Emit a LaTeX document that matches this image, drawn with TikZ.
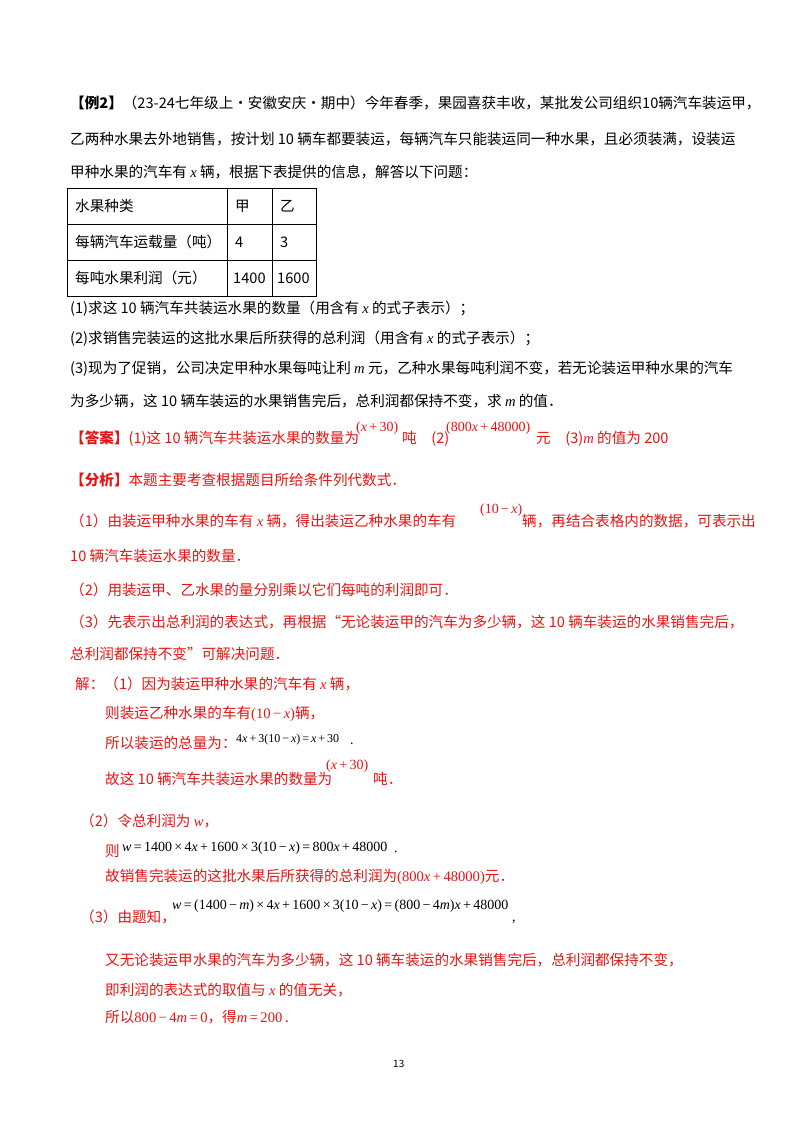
\documentclass[tikz,border=0pt]{standalone}
\usepackage{fontspec}
\setmainfont{Noto Sans CJK SC}
\newfontfamily\tms{Liberation Serif}
\newfontfamily\ssf{Liberation Sans}
\definecolor{ans}{RGB}{232,20,20}
\newcommand{\vx}{\textit{x}}
\newcommand{\mth}[1]{{\tms\fontsize{14.6}{15}\selectfont #1}}
\begin{document}
\begin{tikzpicture}[x=1pt,y=-1pt,
  t/.style={anchor=west,inner sep=0pt,font=\fontsize{14.6}{15}\selectfont},
  r/.style={t,text=ans},
  m/.style={anchor=west,inner sep=0pt,font=\tms\fontsize{14}{15}\selectfont},
  mr/.style={m,text=ans}]
\useasboundingbox (0,0) rectangle (800,1132);
\fill[white] (0,0) rectangle (800,1132);
\node[t] (l1) at (70,103) {\textbf{【例2】}（23-24七年级上·安徽安庆·期中）今年春季，果园喜获丰收，某批发公司组织10辆汽车装运甲，};
\node[t] (l2) at (70,139) {乙两种水果去外地销售，按计划 10 辆车都要装运，每辆汽车只能装运同一种水果，且必须装满，设装运};
\node[t] (l3) at (70,172) {甲种水果的汽车有 \mth{\vx} 辆，根据下表提供的信息，解答以下问题：};
% table
\draw[line width=1pt] (67,188) rectangle (316,296);
\draw[line width=1pt] (67,224) -- (316,224) (67,260) -- (316,260) (227,188) -- (227,296) (272,188) -- (272,296);
\node[t] (c11) at (75,206) {水果种类};
\node[t] (c12) at (235,206) {甲};
\node[t] (c13) at (280,206) {乙};
\node[t] (c21) at (75,242) {每辆汽车运载量（吨）};
\node[t] (c22) at (235,242) {4};
\node[t] (c23) at (280,242) {3};
\node[t] (c31) at (75,278) {每吨水果利润（元）};
\node[t] (c32) at (233,278) {1400};
\node[t] (c33) at (277,278) {1600};
\node[t] (q1) at (70,309) {(1)求这 10 辆汽车共装运水果的数量（用含有 \mth{\vx} 的式子表示）；};
\node[t] (q2) at (70,339) {(2)求销售完装运的这批水果后所获得的总利润（用含有 \mth{\vx} 的式子表示）；};
\node[t] (q3) at (70,369) {(3)现为了促销，公司决定甲种水果每吨让利 \mth{\textit{m}} 元，乙种水果每吨利润不变，若无论装运甲种水果的汽车};
\node[t] (q4) at (70,401) {为多少辆，这 10 辆车装运的水果销售完后，总利润都保持不变，求 \mth{\textit{m}} 的值．};
% answer
\node[r] (a1) at (70,439) {\textbf{【答案】}(1)这 10 辆汽车共装运水果的数量为};
\node[mr] (a2) at (356,428) {(\vx\,+\,30)};
\node[r] (a3) at (402,439) {吨\quad (2)};
\node[mr] (a4) at (446,428) {(800\vx\,+\,48000)};
\node[r] (a5) at (536,439) {元\quad (3)\mth{\textit{m}} 的值为 200};
\node[r] (f0) at (70,480) {\textbf{【分析】}本题主要考查根据题目所给条件列代数式．};
\node[r] (f1) at (70,521) {（1）由装运甲种水果的车有 \mth{\vx} 辆，得出装运乙种水果的车有};
\node[mr] (f1m) at (480,510) {(10\,−\,\vx)};
\node[r] (f1b) at (522,521) {辆，再结合表格内的数据，可表示出};
\node[r] (f2) at (70,556) {10 辆汽车装运水果的数量．};
\node[r] (f3) at (70,590) {（2）用装运甲、乙水果的量分别乘以它们每吨的利润即可．};
\node[r] (f4) at (70,622) {（3）先表示出总利润的表达式，再根据“无论装运甲的汽车为多少辆，这 10 辆车装运的水果销售完后，};
\node[r] (f5) at (70,654) {总利润都保持不变”可解决问题．};
% solution
\node[r] (s1) at (75,684) {解：（1）因为装运甲种水果的汽车有 \mth{\vx} 辆，};
\node[r] (s2) at (105,714) {则装运乙种水果的车有\mth{(10\,−\,\vx)}辆，};
\node[r] (s3) at (105,743) {所以装运的总量为：};
\node[m] (s3m) at (236,740) {\fontsize{12}{12}\selectfont 4\vx\,+\,3(10\,−\,\vx)\,=\,\vx\,+\,30};
\node[m] (s3d) at (350,744) {.};
\node[r] (s4) at (105,779) {故这 10 辆汽车共装运水果的数量为};
\node[mr] (s4m) at (326,766) {(\vx\,+\,30)};
\node[r] (s4b) at (373,779) {吨．};
\node[r] (s5) at (80,821) {（2）令总利润为 \mth{\textit{w}}，};
\node[r] (s6) at (105,851) {则};
\node[m] (s6m) at (122,848) {\textit{w}\,=\,1400\,×\,4\vx\,+\,1600\,×\,3(10\,−\,\vx)\,=\,800\vx\,+\,48000};
\node[m] (s6d) at (394,852) {.};
\node[r] (s7) at (105,877) {故销售完装运的这批水果后所获得的总利润为\mth{(800\vx\,+\,48000)}元．};
\node[m] (s8m) at (172,906) {\textit{w}\,=\,(1400\,−\,\textit{m})\,×\,4\vx\,+\,1600\,×\,3(10\,−\,\vx)\,=\,(800\,−\,4\textit{m})\vx\,+\,48000};
\node[r] (s8) at (80,917) {（3）由题知，};
\node[m] (s8c) at (512,922) {,};
\node[r] (s9) at (105,960) {又无论装运甲水果的汽车为多少辆，这 10 辆车装运的水果销售完后，总利润都保持不变，};
\node[r] (s10) at (105,990) {即利润的表达式的取值与 \mth{\vx} 的值无关，};
\node[r] (s11) at (105,1017) {所以\mth{800\,−\,4\textit{m}\,=\,0}，得\mth{\textit{m}\,=\,200}\,.};
\node[t,font=\fontsize{10}{10}\selectfont] (pg) at (393,1064) {13};
\end{tikzpicture}
\end{document}
